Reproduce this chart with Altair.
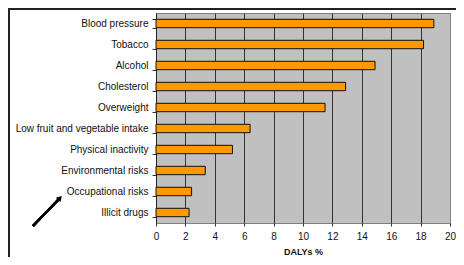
import altair as alt
import pandas as pd

categories = ["Blood pressure", "Tobacco", "Alcohol", "Cholesterol", "Overweight",
              "Low fruit and vegetable intake", "Physical inactivity",
              "Environmental risks", "Occupational risks", "Illicit drugs"]
values = [18.9, 18.2, 14.9, 12.9, 11.5, 6.4, 5.2, 3.35, 2.42, 2.25]
x_ticks = [0, 2, 4, 6, 8, 10, 12, 14, 16, 18, 20]

df = pd.DataFrame({"risk": categories, "daly": values})

W, H = 294, 210
FONT = "Liberation Sans"

bars = alt.Chart(df).mark_bar(color="#FF9900", stroke="#111111", strokeWidth=1).encode(
    y=alt.Y("risk:N", sort=categories,
            scale=alt.Scale(paddingInner=0.6, paddingOuter=0.3),
            axis=alt.Axis(title=None, tickBand="extent", tickSize=4, tickColor="#333333",
                          domainColor="#222222", labelFont=FONT, labelFontSize=10,
                          labelColor="#111111", labelPadding=4, grid=False)),
    x=alt.X("daly:Q", scale=alt.Scale(domain=[0, 20], nice=False),
            axis=alt.Axis(title="DALYs %", values=x_ticks, tickSize=3, tickColor="#333333",
                          domain=False, grid=True,
                          gridColor=alt.condition("datum.value === 20",
                                                  alt.value("#808080"), alt.value("#333333")),
                          gridWidth=1, labelFlush=False,
                          labelFont=FONT, labelFontSize=10, labelColor="#111111",
                          labelPadding=5, titleFont=FONT, titleFontSize=9,
                          titleFontWeight="bold", titleColor="#111111", titlePadding=6)),
)

frame_left = alt.Chart(df).mark_rule(color="#222222", strokeWidth=2).encode(
    x=alt.value(-147), y=alt.value(-5), y2=alt.value(260))
frame_top = alt.Chart(df).mark_rule(color="#222222", strokeWidth=2).encode(
    x=alt.value(-148), x2=alt.value(320), y=alt.value(-4))

arrow_line = alt.Chart(df).mark_rule(color="#000000", strokeWidth=2).encode(
    x=alt.value(-123), y=alt.value(213), x2=alt.value(-97), y2=alt.value(186))
arrow_head = alt.Chart(pd.DataFrame({"a": [0]})).mark_point(
    shape="triangle-up", filled=True, color="#000000", size=40, angle=43, opacity=1).encode(
    x=alt.value(-96), y=alt.value(185))

chart = alt.layer(bars, frame_left, frame_top, arrow_line, arrow_head).properties(
    width=W, height=H,
    autosize=alt.AutoSizeParams(type="none"),
    padding={"left": 148, "top": 5, "right": 6, "bottom": 34},
    background="white",
).configure_view(fill="#C0C0C0", stroke="#808080", strokeWidth=1)

chart.save("out.html", embed_options={"renderer": "svg", "actions": False})
